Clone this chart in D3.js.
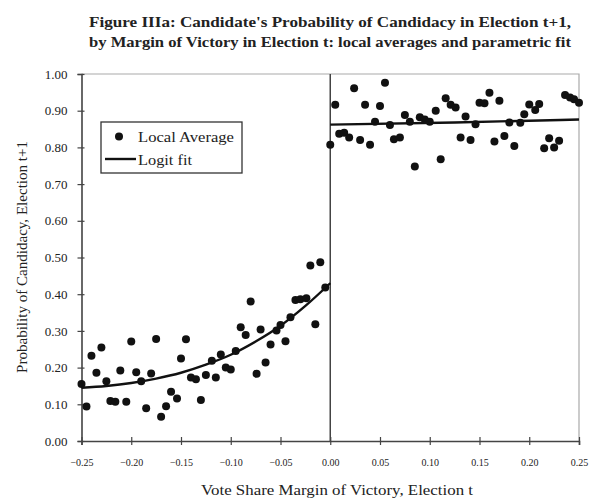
<!DOCTYPE html>
<html>
<head>
<meta charset="utf-8">
<script src="https://cdn.jsdelivr.net/npm/d3@7"></script>
<style>
  html, body { margin: 0; padding: 0; background: #fff; }
  svg { display: block; }
  text { font-family: "Liberation Serif", "DejaVu Serif", serif; fill: #222; }
</style>
</head>
<body>
<svg id="chart" width="603" height="499"></svg>
<script>
// Local averages of the probability of running again, by margin of victory
const leftMargin = [-0.250,-0.245,-0.240,-0.235,-0.230,-0.225,-0.221,-0.216,-0.211,-0.205,
  -0.200,-0.195,-0.190,-0.185,-0.180,-0.175,-0.170,-0.165,-0.160,-0.154,
  -0.150,-0.145,-0.140,-0.135,-0.130,-0.125,-0.119,-0.115,-0.110,-0.105,
  -0.100,-0.095,-0.090,-0.085,-0.080,-0.074,-0.070,-0.065,-0.060,-0.054,
  -0.050,-0.045,-0.040,-0.035,-0.030,-0.024,-0.020,-0.015,-0.010,-0.005];
const leftProb = [0.155,0.094,0.232,0.186,0.255,0.163,0.109,0.107,0.192,0.107,
  0.271,0.187,0.163,0.089,0.184,0.278,0.066,0.095,0.134,0.116,
  0.225,0.277,0.173,0.168,0.112,0.180,0.219,0.173,0.236,0.200,
  0.195,0.245,0.310,0.289,0.380,0.183,0.304,0.214,0.263,0.301,
  0.316,0.272,0.337,0.384,0.386,0.389,0.478,0.318,0.487,0.418];

const rightMargin = [0.000,0.005,0.009,0.014,0.019,0.024,0.030,0.035,0.040,0.045,
  0.050,0.055,0.060,0.064,0.070,0.075,0.080,0.085,0.090,0.095,
  0.100,0.106,0.111,0.116,0.121,0.126,0.131,0.136,0.141,0.146,
  0.150,0.155,0.160,0.165,0.170,0.175,0.180,0.185,0.191,0.195,
  0.200,0.206,0.210,0.215,0.220,0.225,0.230,0.236,0.241,0.245,0.250];
const rightProb = [0.807,0.916,0.837,0.840,0.827,0.961,0.820,0.916,0.807,0.870,
  0.913,0.976,0.861,0.822,0.827,0.888,0.870,0.748,0.882,0.876,
  0.870,0.900,0.768,0.934,0.916,0.909,0.827,0.884,0.820,0.863,
  0.922,0.920,0.949,0.816,0.927,0.831,0.868,0.804,0.867,0.890,
  0.917,0.902,0.918,0.798,0.825,0.800,0.818,0.943,0.936,0.931,0.922];

// Parametric (logit) fit, read at regular margins on each side of zero
const fitLeftMargin = [-0.250,-0.225,-0.200,-0.175,-0.150,-0.125,-0.100,-0.075,-0.050,-0.025,0.000];
const fitLeftProb   = [0.145,0.150,0.158,0.170,0.186,0.208,0.235,0.271,0.314,0.368,0.430];
const fitRightMargin = [0.000,0.125,0.250];
const fitRightProb   = [0.862,0.868,0.876];

const xTicks = [-0.25,-0.20,-0.15,-0.10,-0.05,0.00,0.05,0.10,0.15,0.20,0.25];
const yTicks = [0,0.1,0.2,0.3,0.4,0.5,0.6,0.7,0.8,0.9,1.0];

const titleLines = ["Figure IIIa: Candidate's Probability of Candidacy in Election t+1,",
                    "by Margin of Victory in Election t: local averages and parametric fit"];
const xTitle = "Vote Share Margin of Victory, Election t";
const yTitle = "Probability of Candidacy, Election t+1";
const legendLabels = ["Local Average", "Logit fit"];

const svg = d3.select("#chart");
const x = d3.scaleLinear().domain([-0.25, 0.25]).range([81.5, 579]);
const y = d3.scaleLinear().domain([0, 1]).range([441, 74]);

// plot frame (top and right edges)
svg.append("path")
  .attr("d", `M${x(-0.25)},${y(1)}H${x(0.25)}V${y(0)}`)
  .attr("fill", "none").attr("stroke", "#aaa").attr("stroke-width", 1.2);

// cut-off line at zero margin
svg.append("line")
  .attr("x1", x(0)).attr("x2", x(0)).attr("y1", y(1)).attr("y2", y(0))
  .attr("stroke", "#444").attr("stroke-width", 1.5);

// axes
const xAxis = svg.append("g").attr("transform", `translate(0,${y(0)})`)
  .call(d3.axisBottom(x).tickValues(xTicks).tickFormat(d3.format(".2f")).tickSize(4).tickPadding(14));
xAxis.selectAll(".tick line").attr("y1", -4).attr("y2", 4);
const yAxis = svg.append("g").attr("transform", `translate(${x(-0.25)},0)`)
  .call(d3.axisLeft(y).tickValues(yTicks).tickFormat(d3.format(".2f")).tickSize(4).tickPadding(10));
yAxis.selectAll(".tick line").attr("x1", -4).attr("x2", 3);
[xAxis, yAxis].forEach(g => {
  g.select(".domain").attr("stroke", "#444").attr("stroke-width", 1.6);
  g.selectAll(".tick line").attr("stroke", "#444").attr("stroke-width", 1.2);
  g.selectAll(".tick text").style("font-family", "'Liberation Serif', serif").attr("fill", "#333");
});
xAxis.selectAll(".tick text").style("font-size", "10px");
yAxis.selectAll(".tick text").style("font-size", "13px");

// local averages
const pts = leftMargin.map((m, i) => [m, leftProb[i]])
  .concat(rightMargin.map((m, i) => [m, rightProb[i]]));
svg.append("g").selectAll("circle").data(pts).join("circle")
  .attr("cx", d => x(d[0])).attr("cy", d => y(d[1])).attr("r", 4).attr("fill", "#111");

// logit fit
const line = d3.line().x(d => x(d[0])).y(d => y(d[1])).curve(d3.curveMonotoneX);
[[fitLeftMargin, fitLeftProb], [fitRightMargin, fitRightProb]].forEach(([ms, ps]) => {
  svg.append("path").datum(ms.map((m, i) => [m, ps[i]]))
    .attr("d", line).attr("fill", "none").attr("stroke", "#111").attr("stroke-width", 2.4);
});

// titles
svg.selectAll(".title").data(titleLines).join("text")
  .attr("x", 330).attr("y", (d, i) => 27 + i * 20)
  .attr("text-anchor", "middle").style("font-size", "14px").style("font-weight", "bold")
  .attr("textLength", 482).attr("lengthAdjust", "spacingAndGlyphs")
  .text(d => d);
svg.append("text").attr("x", 337).attr("y", 495).attr("text-anchor", "middle")
  .style("font-size", "14px").attr("textLength", 272).attr("lengthAdjust", "spacingAndGlyphs")
  .text(xTitle);
svg.append("text").attr("transform", "translate(27,257) rotate(-90)").attr("text-anchor", "middle")
  .style("font-size", "14px").attr("textLength", 232).attr("lengthAdjust", "spacingAndGlyphs")
  .text(yTitle);

// legend
const lg = svg.append("g");
lg.append("rect").attr("x", 101).attr("y", 122).attr("width", 141).attr("height", 51)
  .attr("fill", "#fff").attr("stroke", "#333").attr("stroke-width", 1.3);
lg.append("circle").attr("cx", 119).attr("cy", 136.5).attr("r", 4).attr("fill", "#111");
lg.append("line").attr("x1", 105).attr("x2", 136).attr("y1", 159).attr("y2", 159)
  .attr("stroke", "#111").attr("stroke-width", 2.4);
lg.selectAll(".lab").data(legendLabels).join("text")
  .attr("x", 138).attr("y", (d, i) => 142 + i * 23).style("font-size", "14px")
  .attr("textLength", (d, i) => i === 0 ? 96 : 54).attr("lengthAdjust", "spacingAndGlyphs")
  .text(d => d);
</script>
</body>
</html>
